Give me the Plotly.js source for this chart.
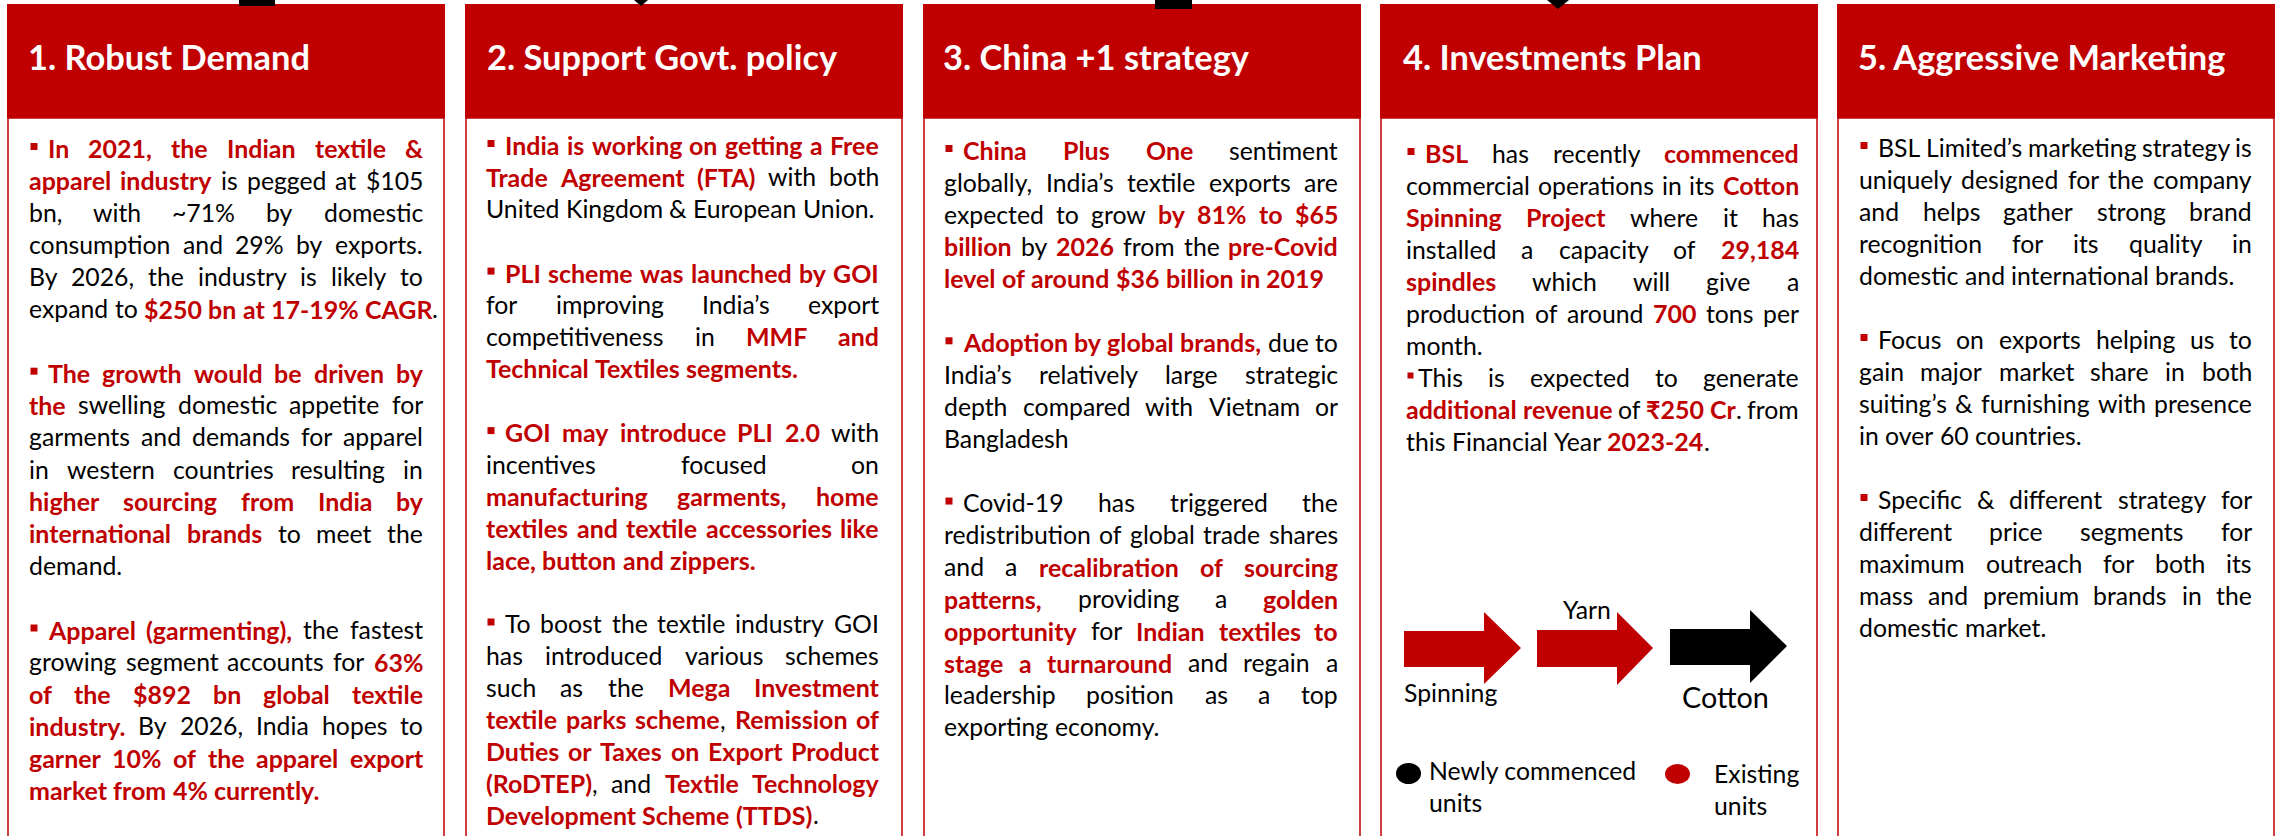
<!DOCTYPE html>
<html><head><meta charset="utf-8">
<script src="https://cdn.plot.ly/plotly-3.0.1.min.js"></script>
<style>html,body{margin:0;padding:0;background:#fff;overflow:hidden}#chart{width:2279px;height:836px}</style>
</head><body><div id="chart"></div>
<script>
// ---------- content ----------
const panelTitles = ["1. Robust Demand", "2. Support Govt. policy", "3. China +1 strategy", "4. Investments Plan", "5. Aggressive Marketing"];

// '^' = bullet line, '~' = bullet with tight gap, *...* = bold red, '' = blank line
const panel1Lines = [
  "^*In 2021, the Indian textile &*",
  "*apparel industry* is pegged at $105",
  "bn, with ~71% by domestic",
  "consumption and 29% by exports.",
  "By 2026, the industry is likely to",
  "expand to *$250 bn at 17-19% CAGR*.",
  "",
  "^*The growth would be driven by*",
  "*the* swelling domestic appetite for",
  "garments and demands for apparel",
  "in western countries resulting in",
  "*higher sourcing from India by*",
  "*international brands* to meet the",
  "demand.",
  "",
  "^*Apparel (garmenting),* the fastest",
  "growing segment accounts for *63%*",
  "*of the $892 bn global textile*",
  "*industry.* By 2026, India hopes to",
  "*garner 10% of the apparel export*",
  "*market from 4% currently.*"
];
const panel2Lines = [
  "^*India is working on getting a Free*",
  "*Trade Agreement (FTA)* with both",
  "United Kingdom & European Union.",
  "",
  "^*PLI scheme was launched by GOI*",
  "for improving India’s export",
  "competitiveness in *MMF and*",
  "*Technical Textiles segments.*",
  "",
  "^*GOI may introduce PLI 2.0* with",
  "incentives focused on",
  "*manufacturing garments, home*",
  "*textiles and textile accessories like*",
  "*lace, button and zippers.*",
  "",
  "^To boost the textile industry GOI",
  "has introduced various schemes",
  "such as the *Mega Investment*",
  "*textile parks scheme*, *Remission of*",
  "*Duties or Taxes on Export Product*",
  "*(RoDTEP)*, and *Textile Technology*",
  "*Development Scheme (TTDS)*."
];
const panel3Lines = [
  "^*China Plus One* sentiment",
  "globally, India’s textile exports are",
  "expected to grow *by 81% to $65*",
  "*billion* by *2026* from the *pre-Covid*",
  "*level of around $36 billion in 2019*",
  "",
  "^*Adoption by global brands,* due to",
  "India’s relatively large strategic",
  "depth compared with Vietnam or",
  "Bangladesh",
  "",
  "^Covid-19 has triggered the",
  "redistribution of global trade shares",
  "and a *recalibration of sourcing*",
  "*patterns,* providing a *golden*",
  "*opportunity* for *Indian textiles to*",
  "*stage a turnaround* and regain a",
  "leadership position as a top",
  "exporting economy."
];
const panel4Lines = [
  "^*BSL* has recently *commenced*",
  "commercial operations in its *Cotton*",
  "*Spinning Project* where it has",
  "installed a capacity of *29,184*",
  "*spindles* which will give a",
  "production of around *700* tons per",
  "month.",
  "~This is expected to generate",
  "*additional revenue* of *₹250 Cr*. from",
  "this Financial Year *2023-24*."
];
const panel5Lines = [
  "^BSL Limited’s marketing strategy is",
  "uniquely designed for the company",
  "and helps gather strong brand",
  "recognition for its quality in",
  "domestic and international brands.",
  "",
  "^Focus on exports helping us to",
  "gain major market share in both",
  "suiting’s & furnishing with presence",
  "in over 60 countries.",
  "",
  "^Specific & different strategy for",
  "different price segments for",
  "maximum outreach for both its",
  "mass and premium brands in the",
  "domestic market."
];
const flowLabels = ["Spinning", "Yarn", "Cotton"];
const legendLabels = [["Newly commenced", "units"], ["Existing", "units"]];

// ---------- styling / geometry ----------
const RED = '#C00000', BLACK = '#000000', FONT = 'Lato';
const W = 2279, H = 836;
const panelLeft = [7, 465, 923, 1380, 1837], panelW = 438;
const headTop = 4, headBot = 118;
const titleX = [28, 487, 943, 1403, 1858], titleW = [282, 352, 302, 301, 369];
const textLeft = [29, 486, 944, 1406, 1859], textRight = [423, 879, 1338, 1799, 2252];
const lineStart = [148, 145, 150, 153, 147], lineStep = [32.1, 31.9, 32.05, 32, 32];
const panels = [panel1Lines, panel2Lines, panel3Lines, panel4Lines, panel5Lines];

const cv = document.createElement('canvas'), ctx = cv.getContext('2d');
function tw(t, size, bold) { ctx.font = (bold ? 'bold ' : '') + size + 'px ' + FONT; return ctx.measureText(t).width; }
const avg = a => a.reduce((s, v) => s + v, 0) / a.length;
const regSize = 100 * avg([386 / tw("United Kingdom & European Union.", 100, false), 378 / tw("domestic and international brands.", 100, false)]);
let boldSize = 100 * avg([375 / tw("level of around $36 billion in 2019", 100, true), 290 / tw("market from 4% currently.", 100, true),
  271 / tw("lace, button and zippers.", 100, true), 312 / tw("Technical Textiles segments.", 100, true)]);
boldSize = Math.max(regSize * 0.93, Math.min(regSize * 1.07, boldSize));
const titleSize = 100 * avg(panelTitles.map((t, i) => titleW[i] / tw(t, 100, true)));

function esc(t) { return t.replace(/&/g, '&amp;'); }
function parseLine(s) {
  let bullet = null;
  if (s[0] === '^') { bullet = 'wide'; s = s.slice(1); } else if (s[0] === '~') { bullet = 'tight'; s = s.slice(1); }
  const words = []; let cur = [], piece = '', bold = false;
  const fp = () => { if (piece) { cur.push({ t: piece, b: bold }); piece = ''; } };
  const fw = () => { fp(); if (cur.length) { words.push(cur); cur = []; } };
  for (const ch of s) {
    if (ch === '*') { fp(); bold = !bold; }
    else if (ch === ' ') fw();
    else piece += ch;
  }
  fw();
  return { bullet, words };
}

const shapes = [], annotations = [];
// panels
panelLeft.forEach((L, p) => {
  shapes.push({ type: 'rect', xref: 'x', yref: 'y', x0: L + 1, x1: L + panelW - 1, y0: headBot, y1: H + 20, fillcolor: '#ffffff', line: { color: RED, width: 1.5 } });
  shapes.push({ type: 'rect', xref: 'x', yref: 'y', x0: L, x1: L + panelW, y0: headTop, y1: headBot, fillcolor: RED, line: { width: 0 } });
  annotations.push({ x: titleX[p], y: 56, xref: 'x', yref: 'y', text: '<b>' + esc(panelTitles[p]) + '</b>', showarrow: false, xanchor: 'left', yanchor: 'middle', borderpad: 0, borderwidth: 0, font: { family: FONT, size: titleSize, color: '#ffffff' } });
});
// black connector fragments at top edge
shapes.push({ type: 'rect', xref: 'x', yref: 'y', x0: 239, x1: 275, y0: 0, y1: 6, fillcolor: BLACK, line: { width: 0 } });
shapes.push({ type: 'path', xref: 'x', yref: 'y', path: 'M 634 0 L 648 0 L 641 6 Z', fillcolor: BLACK, line: { width: 0 } });
shapes.push({ type: 'rect', xref: 'x', yref: 'y', x0: 1155, x1: 1192, y0: 0, y1: 9, fillcolor: BLACK, line: { width: 0 } });
shapes.push({ type: 'path', xref: 'x', yref: 'y', path: 'M 1547 0 L 1569 0 L 1558 9 Z', fillcolor: BLACK, line: { width: 0 } });

// body text
const spaceW = tw(' ', regSize, false);
panels.forEach((lines, p) => {
  lines.forEach((raw, i) => {
    if (!raw) return;
    const { bullet, words } = parseLine(raw);
    const y = lineStart[p] + i * lineStep[p];
    const next = lines[i + 1];
    const justify = next !== undefined && next !== '' && !/^[\^~]/.test(next);
    let x0 = textLeft[p];
    if (bullet) {
      const bw = bullet === 'wide' ? 7 : 6;
      shapes.push({ type: 'rect', xref: 'x', yref: 'y', x0: textLeft[p] + 1.5, x1: textLeft[p] + 1.5 + bw, y0: y - 1.5 - bw / 2, y1: y - 1.5 + bw / 2, fillcolor: RED, line: { width: 0 } });
      x0 += bullet === 'wide' ? 19 : 12;
    }
    const ww = words.map(w => w.reduce((s, pc) => s + tw(pc.t, pc.b ? boldSize : regSize, pc.b), 0));
    const sum = ww.reduce((s, v) => s + v, 0);
    const avail = textRight[p] - x0;
    const gap = (justify && words.length > 1) ? (avail - sum) / (words.length - 1) : spaceW;
    let x = x0;
    words.forEach((w, k) => {
      let px = x;
      w.forEach(pc => {
        const sz = pc.b ? boldSize : regSize;
        annotations.push({ x: px, y: y, xref: 'x', yref: 'y', text: pc.b ? '<b>' + esc(pc.t) + '</b>' : esc(pc.t), showarrow: false, xanchor: 'left', yanchor: 'middle', borderpad: 0, borderwidth: 0, font: { family: FONT, size: sz, color: pc.b ? RED : BLACK } });
        px += tw(pc.t, sz, pc.b);
      });
      x += ww[k] + gap;
    });
  });
});

// flow diagram (panel 4)
const arrows = [
  { x0: 1404, x1: 1484, x2: 1521, st: 631, sb: 667, ht: 612, hb: 684, ty: 648, c: RED },
  { x0: 1537, x1: 1617, x2: 1653, st: 630, sb: 667, ht: 612, hb: 685, ty: 648, c: RED },
  { x0: 1670, x1: 1750, x2: 1787, st: 629, sb: 665, ht: 610, hb: 683, ty: 646, c: BLACK }
];
arrows.forEach(a => shapes.push({ type: 'path', xref: 'x', yref: 'y', path: `M ${a.x0} ${a.st} L ${a.x1} ${a.st} L ${a.x1} ${a.ht} L ${a.x2} ${a.ty} L ${a.x1} ${a.hb} L ${a.x1} ${a.sb} L ${a.x0} ${a.sb} Z`, fillcolor: a.c, line: { width: 0 } }));
const flowPos = [[1404, 692, 1], [1563, 609, 1], [1682, 697, 1.16]];
flowLabels.forEach((t, i) => annotations.push({ x: flowPos[i][0], y: flowPos[i][1], xref: 'x', yref: 'y', text: t, showarrow: false, xanchor: 'left', yanchor: 'middle', borderpad: 0, borderwidth: 0, font: { family: FONT, size: regSize * flowPos[i][2], color: BLACK } }));
// legend
shapes.push({ type: 'circle', xref: 'x', yref: 'y', x0: 1396, x1: 1421, y0: 763, y1: 784, fillcolor: BLACK, line: { width: 0 } });
shapes.push({ type: 'circle', xref: 'x', yref: 'y', x0: 1665, x1: 1690, y0: 764, y1: 784, fillcolor: RED, line: { width: 0 } });
const legPos = [[1429, 770], [1714, 773]];
legendLabels.forEach((ls, i) => ls.forEach((t, j) => annotations.push({ x: legPos[i][0], y: legPos[i][1] + j * 32, xref: 'x', yref: 'y', text: t, showarrow: false, xanchor: 'left', yanchor: 'middle', borderpad: 0, borderwidth: 0, font: { family: FONT, size: regSize, color: BLACK } })));

Plotly.newPlot('chart', [{ x: [], y: [], type: 'scatter', hoverinfo: 'skip' }], {
  width: W, height: H, margin: { l: 0, r: 0, t: 0, b: 0 },
  paper_bgcolor: '#ffffff', plot_bgcolor: '#ffffff', showlegend: false,
  xaxis: { range: [0, W], visible: false, fixedrange: true },
  yaxis: { range: [H, 0], visible: false, fixedrange: true },
  shapes, annotations
}, { staticPlot: true, displayModeBar: false });
</script></body></html>
